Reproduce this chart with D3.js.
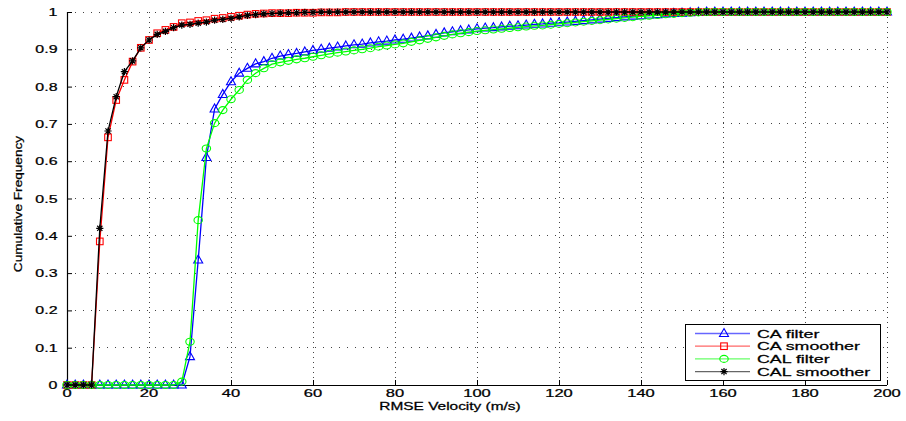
<!DOCTYPE html>
<html><head><meta charset="utf-8">
<script src="https://cdn.jsdelivr.net/npm/d3@7"></script>
<style>body{margin:0;background:#fff}svg{display:block}</style>
</head><body>
<svg id="c" width="906" height="421"></svg>
<script>
// ---- data ----
const xValues = [0,2,4,6,8,10,12,14,16,18,20,22,24,26,28,30,32,34,36,38,40,42,44,46,48,50,52,54,56,58,60,62,64,66,68,70,72,74,76,78,80,82,84,86,88,90,92,94,96,98,100,102,104,106,108,110,112,114,116,118,120,122,124,126,128,130,132,134,136,138,140,142,144,146,148,150,152,154,156,158,160,162,164,166,168,170,172,174,176,178,180,182,184,186,188,190,192,194,196,198,200];
const caFilter = [0,0,0,0,0,0,0,0,0,0,0,0,0,0,0,0.076,0.335,0.61,0.74,0.779,0.813,0.836,0.849,0.861,0.867,0.876,0.882,0.886,0.889,0.893,0.897,0.9,0.903,0.906,0.909,0.912,0.914,0.917,0.92,0.922,0.925,0.927,0.93,0.933,0.936,0.94,0.944,0.947,0.95,0.952,0.955,0.957,0.958,0.96,0.962,0.963,0.965,0.967,0.968,0.97,0.971,0.973,0.975,0.977,0.979,0.981,0.983,0.985,0.987,0.989,0.99,0.992,0.993,0.995,0.996,0.997,0.998,0.999,1,1,1,1,1,1,1,1,1,1,1,1,1,1,1,1,1,1,1,1,1,1,1];
const caSmoother = [0,0,0,0,0.385,0.664,0.764,0.818,0.867,0.904,0.925,0.943,0.952,0.96,0.97,0.972,0.976,0.978,0.982,0.984,0.987,0.99,0.993,0.995,0.996,0.997,0.997,0.997,0.998,0.998,0.998,0.999,0.999,0.999,1,1,1,1,1,1,1,1,1,1,1,1,1,1,1,1,1,1,1,1,1,1,1,1,1,1,1,1,1,1,1,1,1,1,1,1,1,1,1,1,1,1,1,1,1,1,1,1,1,1,1,1,1,1,1,1,1,1,1,1,1,1,1,1,1,1,1];
const calFilter = [0,0,0,0,0,0,0,0,0,0,0,0,0,0,0.009,0.116,0.442,0.634,0.702,0.737,0.766,0.791,0.818,0.836,0.849,0.86,0.865,0.869,0.873,0.876,0.88,0.884,0.888,0.891,0.894,0.897,0.9,0.903,0.907,0.91,0.913,0.916,0.92,0.924,0.928,0.932,0.936,0.94,0.943,0.946,0.949,0.951,0.953,0.955,0.957,0.959,0.961,0.963,0.964,0.966,0.968,0.97,0.972,0.974,0.976,0.978,0.98,0.982,0.984,0.986,0.988,0.99,0.992,0.994,0.995,0.997,0.998,0.999,1,1,1,1,1,1,1,1,1,1,1,1,1,1,1,1,1,1,1,1,1,1,1];
const calSmoother = [0,0,0,0,0.42,0.681,0.773,0.84,0.869,0.904,0.925,0.94,0.948,0.958,0.965,0.967,0.97,0.973,0.978,0.98,0.983,0.987,0.991,0.993,0.995,0.996,0.997,0.998,0.998,0.999,0.999,1,1,1,1,1,1,1,1,1,1,1,1,1,1,1,1,1,1,1,1,1,1,1,1,1,1,1,1,1,1,1,1,1,1,1,1,1,1,1,1,1,1,1,1,1,1,1,1,1,1,1,1,1,1,1,1,1,1,1,1,1,1,1,1,1,1,1,1,1,1];
const seriesNames = ["CA filter","CA smoother","CAL filter","CAL smoother"];
const seriesColors = ["#0000ff","#ff0000","#00ff00","#000000"];
const seriesMarkers = ["triangle","square","circle","star"];
const xTicks = [0,20,40,60,80,100,120,140,160,180,200];
const yTicks = [0,0.1,0.2,0.3,0.4,0.5,0.6,0.7,0.8,0.9,1];
const xLabel = "RMSE Velocity (m/s)";
const yLabel = "Cumulative Frequency";

// ---- layout ----
const svg = d3.select("#c");
const L = 67, R = 887, T = 12, B = 385;
const x = d3.scaleLinear().domain([0,200]).range([L,R]);
const y = d3.scaleLinear().domain([0,1]).range([B,T]);
const FONT = "'Liberation Sans', Arial, Helvetica, sans-serif";

function stext(g, str, tx, ty, size, sx, anchor, rot) {
  return g.append("text")
    .attr("transform", `translate(${tx},${ty})` + (rot ? ` rotate(${rot})` : "") + ` scale(${sx},1)`)
    .attr("font-family", FONT).attr("font-size", size)
    .attr("text-anchor", anchor).attr("fill", "#000")
    .attr("stroke", "#000").attr("stroke-width", 0.25).text(str);
}

// grid
const grid = svg.append("g");
grid.selectAll("line.h").data(yTicks.filter(d => d > 0)).enter().append("line")
  .attr("x1", L).attr("x2", R).attr("y1", d => y(d)).attr("y2", d => y(d))
  .attr("stroke", "#444").attr("stroke-width", 1).attr("stroke-dasharray", "1,7")
  .attr("shape-rendering", "crispEdges");
grid.selectAll("line.v").data(xTicks.filter(d => d > 0)).enter().append("line")
  .attr("y1", T).attr("y2", B).attr("x1", d => x(d)).attr("x2", d => x(d))
  .attr("stroke", "#444").attr("stroke-width", 1).attr("stroke-dasharray", "1,4")
  .attr("shape-rendering", "crispEdges");

// axes
const xAxis = d3.axisBottom(x).tickValues(xTicks).tickSize(-5).tickFormat("");
const yAxis = d3.axisLeft(y).tickValues(yTicks).tickSize(-5).tickFormat("");
const gx = svg.append("g").attr("transform", `translate(0,${B})`).call(xAxis);
const gy = svg.append("g").attr("transform", `translate(${L},0)`).call(yAxis);
[gx, gy].forEach(g => {
  g.select(".domain").attr("stroke", "#000").attr("stroke-width", 1.2);
  g.selectAll(".tick line").attr("stroke", "#000");
});
gy.select(".domain").attr("d", `M0.5,${T}V${B}`);
gx.select(".domain").attr("d", `M${L},0.5H${R}`);

const labels = svg.append("g");
xTicks.forEach(v => stext(labels, String(v), x(v), 397, 11, 1.5, "middle"));
yTicks.forEach(v => stext(labels, String(v), 57.5, y(v) + 4, 11, 1.45, "end"));
stext(labels, xLabel, 450, 410, 10.5, 1.47, "middle");
stext(labels, yLabel, 22, 204, 10.5, 1.3, "middle", -90);

// markers
function marker(g, type, cx, cy, color) {
  if (type === "triangle") {
    g.append("path").attr("d", `M${cx},${cy-5}L${cx+4.5},${cy+3}L${cx-4.5},${cy+3}Z`)
      .attr("fill", "none").attr("stroke", color).attr("stroke-width", 1.1);
  } else if (type === "square") {
    g.append("rect").attr("x", cx-3.3).attr("y", cy-3.3).attr("width", 6.6).attr("height", 6.6)
      .attr("fill", "none").attr("stroke", color).attr("stroke-width", 1.1);
  } else if (type === "circle") {
    g.append("ellipse").attr("cx", cx).attr("cy", cy).attr("rx", 4.2).attr("ry", 3.5)
      .attr("fill", "none").attr("stroke", color).attr("stroke-width", 1.1);
  } else {
    const r = 3.6, d = 2.6;
    g.append("path").attr("d",
      `M${cx-r},${cy}H${cx+r}M${cx},${cy-r}V${cy+r}M${cx-d},${cy-d}L${cx+d},${cy+d}M${cx-d},${cy+d}L${cx+d},${cy-d}`)
      .attr("stroke", color).attr("stroke-width", 1.2);
  }
}

const allSeries = [caFilter, caSmoother, calFilter, calSmoother];
const line = d3.line().x(d => x(d[0])).y(d => y(d[1]));
const plot = svg.append("g");
allSeries.forEach((vals, si) => {
  const pts = xValues.map((xv, i) => [xv, vals[i]]);
  const g = plot.append("g");
  g.append("path").attr("d", line(pts)).attr("fill", "none")
    .attr("stroke", seriesColors[si]).attr("stroke-width", 1.3);
  pts.forEach(p => marker(g, seriesMarkers[si], x(p[0]), y(p[1]), seriesColors[si]));
});

// legend
const lg = svg.append("g");
lg.append("rect").attr("x", 685.5).attr("y", 324.5).attr("width", 195).attr("height", 56)
  .attr("fill", "#fff").attr("stroke", "#000").attr("stroke-width", 1);
seriesNames.forEach((n, i) => {
  const ly = 333.5 + i * 12.7;
  lg.append("line").attr("x1", 695).attr("x2", 750).attr("y1", ly).attr("y2", ly)
    .attr("stroke", seriesColors[i]).attr("stroke-width", 1.3).attr("stroke-opacity", 0.6);
  marker(lg, seriesMarkers[i], 724, ly, seriesColors[i]);
  stext(lg, n, 757, ly + 4, 11, 1.62, "start");
});
</script>
</body></html>
